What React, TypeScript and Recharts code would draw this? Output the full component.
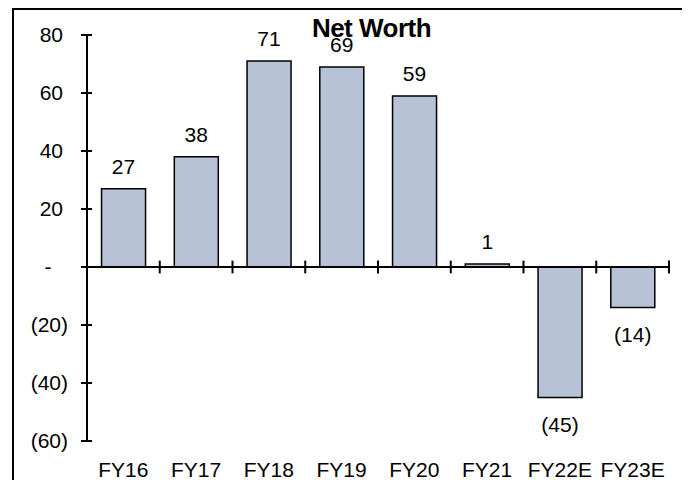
import React from 'react'
import { BarChart, Bar, XAxis, YAxis, ReferenceLine, LabelList } from 'recharts'

const years = ['FY16', 'FY17', 'FY18', 'FY19', 'FY20', 'FY21', 'FY22E', 'FY23E']
const netWorth = [27, 38, 71, 69, 59, 1, -45, -14]
const yTicks = [-60, -40, -20, 0, 20, 40, 60, 80]

const data = years.map((year, i) => ({ year, value: netWorth[i] }))

const FONT = '"Liberation Sans", Arial, sans-serif'
const BAR_FILL = '#b8c2d6'

const fmt = (v: number) => (v === 0 ? '-' : v < 0 ? `(${Math.abs(v)})` : `${v}`)

const YTick = (props: any) => {
  const { x, y, payload } = props
  const v = payload.value
  // accounting-style alignment: negatives keep their ')' past the positive column
  const tx = v === 0 ? x - 39 : v < 0 ? x - 19 : x - 24
  return (
    <g>
      <line x1={x - 6} x2={x + 5} y1={y} y2={y} stroke="#000" strokeWidth={2} />
      <text
        x={tx}
        y={y}
        dy="0.355em"
        textAnchor={v === 0 ? 'middle' : 'end'}
        fill="#000"
        fontSize={21}
        fontFamily={FONT}
      >
        {fmt(v)}
      </text>
    </g>
  )
}

const BarLabel = (props: any) => {
  const { x, y, width, height, value } = props
  const top = Math.min(y, y + height)
  const bottom = Math.max(y, y + height)
  const ly = value < 0 ? bottom + 34 : top - 15
  return (
    <text x={x + width / 2} y={ly} textAnchor="middle" fill="#000" fontSize={21} fontFamily={FONT}>
      {fmt(value)}
    </text>
  )
}

export default function App() {
  return (
    <div style={{ position: 'relative', width: 682, height: 472, overflow: 'hidden', fontFamily: FONT }}>
      <div
        style={{
          position: 'absolute',
          left: 4,
          top: 0,
          width: 668,
          height: 520,
          border: '2px solid #000',
        }}
      />
      <div style={{ position: 'absolute', left: 0, top: 0 }}>
        <BarChart
          width={682}
          height={472}
          data={data}
          margin={{ top: 27, right: 21, bottom: 0, left: 0 }}
          barCategoryGap="20%"
        >
          <XAxis
            dataKey="year"
            height={39}
            axisLine={false}
            tickLine={false}
            tickSize={0}
            tickMargin={21}
            interval={0}
            tick={{ fill: '#000', fontSize: 21, fontFamily: FONT }}
          />
          <YAxis
            width={79}
            domain={[-60, 80]}
            ticks={yTicks}
            allowDataOverflow
            axisLine={{ stroke: '#000', strokeWidth: 2 }}
            tickLine={false}
            tickSize={0}
            tickMargin={0}
            tick={<YTick />}
          />
          <Bar dataKey="value" fill={BAR_FILL} stroke="#000" strokeWidth={1.5} isAnimationActive={false}>
            <LabelList dataKey="value" content={<BarLabel />} />
          </Bar>
          <ReferenceLine y={0} stroke="#000" strokeWidth={2} />
          {years.map((yr) => (
            <ReferenceLine
              key={yr}
              segment={[{ x: yr, y: -2.2 }, { x: yr, y: 2.2 }]}
              position="start"
              stroke="#000"
              strokeWidth={2}
            />
          ))}
          <ReferenceLine
            segment={[{ x: years[years.length - 1], y: -2.2 }, { x: years[years.length - 1], y: 2.2 }]}
            position="end"
            stroke="#000"
            strokeWidth={2}
          />
        </BarChart>
      </div>
      <div
        style={{
          position: 'absolute',
          left: 213.5,
          top: 6.7,
          width: 300,
          textAlign: 'center',
          fontSize: 26,
          lineHeight: '26px',
          fontWeight: 'bold',
          color: '#000',
          letterSpacing: -0.5,
        }}
      >
        Net Worth
      </div>
    </div>
  )
}
